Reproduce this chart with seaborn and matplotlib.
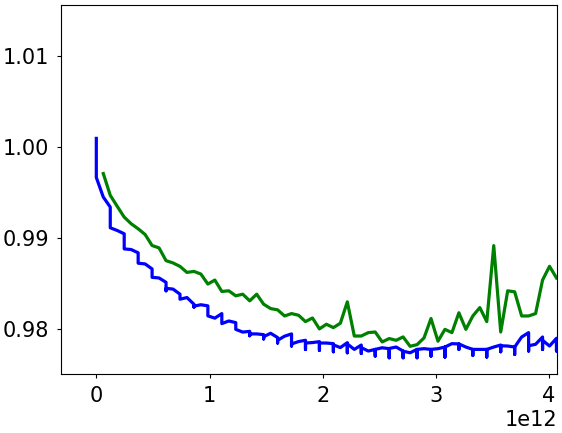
import numpy as np
import pandas as pd
import matplotlib
matplotlib.use("Agg")
import matplotlib.pyplot as plt
import seaborn as sns

# step size on the x axis (one eval interval)
STEP = 0.0616e12

# validation curve, one value per eval (first eval at step 1)
green_vals = [0.99710, 0.99471, 0.99350, 0.99232, 0.99159, 0.99104, 0.99041, 0.98920,
              0.98894, 0.98754, 0.98729, 0.98691, 0.98625, 0.98636, 0.98607, 0.98497,
              0.98541, 0.98416, 0.98423, 0.98368, 0.98386, 0.98313, 0.98386, 0.98276,
              0.98228, 0.98214, 0.98147, 0.98173, 0.98155, 0.98085, 0.98125, 0.98005,
              0.98056, 0.98019, 0.98067, 0.98302, 0.97927, 0.97927, 0.97964, 0.97971,
              0.97862, 0.97899, 0.97880, 0.97917, 0.97814, 0.97832, 0.97906, 0.98119,
              0.97870, 0.98000, 0.97964, 0.98182, 0.98000, 0.98147, 0.98239, 0.98085,
              0.98919, 0.97971, 0.98423, 0.98412, 0.98147, 0.98147, 0.98173, 0.98541,
              0.98692, 0.98564]

# training curve: at even steps the loss jumps (top -> low -> out), odd steps in between
blue_top = [1.00096, 0.99342, 0.99049, 0.98840, 0.98663, 0.98516, 0.98386, 0.98276,
            0.98258, 0.98173, 0.98074, 0.97978, 0.97942, 0.97910, 0.97950, 0.97880,
            0.97865, 0.97843, 0.97854, 0.97828, 0.97780, 0.97788, 0.97762, 0.97780,
            0.97780, 0.97806, 0.97840, 0.97780, 0.97780, 0.97828, 0.97806, 0.97964,
            0.97916, 0.97902]
blue_low = [0.99667, 0.99115, 0.98883, 0.98726, 0.98571, 0.98423, 0.98331, 0.98245,
            0.98148, 0.98063, 0.98000, 0.97930, 0.97895, 0.97850, 0.97817, 0.97780,
            0.97770, 0.97754, 0.97743, 0.97736, 0.97707, 0.97688, 0.97688, 0.97688,
            0.97707, 0.97696, 0.97780, 0.97714, 0.97696, 0.97754, 0.97725, 0.97762,
            0.97780, 0.97762]
blue_out = [0.99667, 0.99115, 0.98883, 0.98726, 0.98571, 0.98450, 0.98331, 0.98255,
            0.98148, 0.98063, 0.98000, 0.97950, 0.97920, 0.97880, 0.97840, 0.97850,
            0.97850, 0.97830, 0.97840, 0.97800, 0.97780, 0.97790, 0.97760, 0.97780,
            0.97780, 0.97806, 0.97840, 0.97780, 0.97780, 0.97820, 0.97806, 0.97820,
            0.97880, 0.97880]
blue_mid = [0.99452, 0.99085, 0.98876, 0.98718, 0.98564, 0.98442, 0.98349, 0.98270,
            0.98123, 0.98092, 0.97970, 0.97950, 0.97957, 0.97925, 0.97866, 0.97855,
            0.97850, 0.97800, 0.97780, 0.97762, 0.97798, 0.97806, 0.97743, 0.97788,
            0.97788, 0.97843, 0.97806, 0.97780, 0.97806, 0.97817, 0.97916, 0.97836,
            0.97817]

# build the blue path
bx, by = [], []
for i in range(len(blue_top)):
    for v in (blue_top[i], blue_low[i], blue_out[i]):
        bx.append(2 * i * STEP)
        by.append(v)
    if i < len(blue_mid):
        bx.append((2 * i + 1) * STEP)
        by.append(blue_mid[i])
train = pd.DataFrame({"x": bx, "y": by})
val = pd.DataFrame({"x": (np.arange(len(green_vals)) + 1) * STEP, "y": green_vals})

fig = plt.figure(figsize=(5.62, 4.33), dpi=100)
ax = fig.add_axes([61 / 562, 1 - 374 / 433, (557 - 61) / 562, (374 - 5) / 433])

sns.lineplot(data=train, x="x", y="y", color="b", lw=2.3, sort=False, estimator=None, ax=ax)
sns.lineplot(data=val, x="x", y="y", color="g", lw=2.3, sort=False, estimator=None, ax=ax)

ax.set_xlim(-0.312e12, 4.07e12)
ax.set_ylim(0.9751, 1.0156)
ax.set_xlabel("")
ax.set_ylabel("")
ax.set_yticks([0.98, 0.99, 1.00, 1.01])
ax.tick_params(labelsize=15, length=3, pad=5.5)
ax.xaxis.get_offset_text().set_fontsize(15)

fig.savefig("out.png", dpi=100)
